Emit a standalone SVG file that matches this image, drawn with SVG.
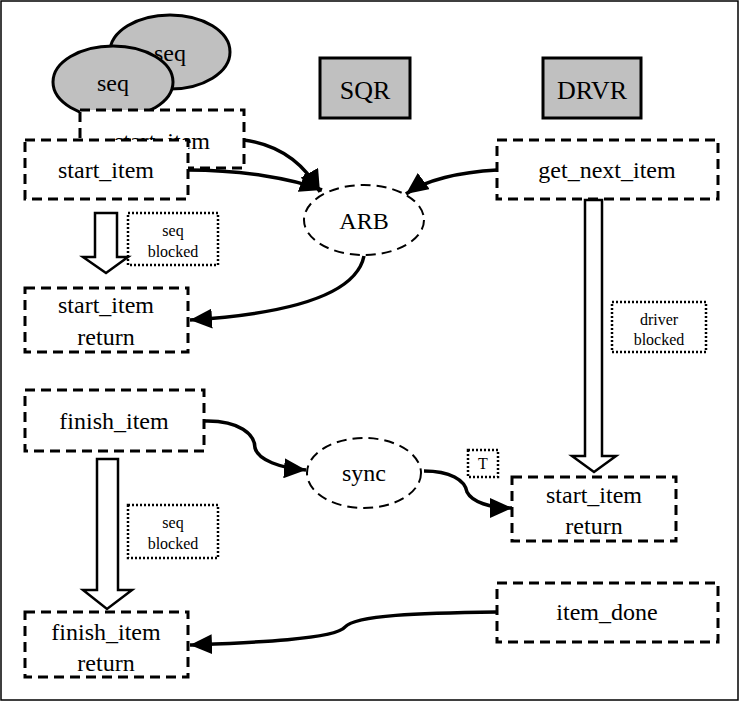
<svg xmlns="http://www.w3.org/2000/svg" width="739" height="701" viewBox="0 0 739 701" font-family="'Liberation Serif', 'DejaVu Serif', serif">
<style>
text{font-family:'Liberation Serif','DejaVu Serif',serif;font-size:24px;text-anchor:middle;fill:#000}
.dash{fill:#fff;stroke:#000;stroke-width:3;stroke-dasharray:10,6}
.dot{fill:#fff;stroke:#000;stroke-width:2.5;stroke-dasharray:2,2}
.gray{fill:#c0c0c0;stroke:#000;stroke-width:3}
.edge{fill:none;stroke:#000;stroke-width:3.5}
.hollow{fill:#fff;stroke:#000;stroke-width:2.5}
.sm{font-size:16px}
</style>
<defs>
<marker id="ah" markerUnits="userSpaceOnUse" markerWidth="24" markerHeight="20" refX="22" refY="10" orient="auto">
<path d="M0,0 L22,10 L0,20 Z" fill="#000"/>
</marker>
</defs>
<rect x="1" y="1" width="737" height="699" fill="#fff" stroke="#000" stroke-width="1.5"/>
<g id="seq2"><ellipse class="gray" cx="170" cy="52" rx="60" ry="37"/><text x="170" y="61">seq</text></g>
<g id="seq1"><ellipse class="gray" cx="113" cy="82" rx="60" ry="36"/><text x="113" y="91">seq</text></g>
<g id="start_item_back"><rect class="dash" x="80" y="110" width="164" height="58"/><text x="162" y="149">start_item</text></g>
<g id="start_item"><rect class="dash" x="25" y="140" width="163" height="59"/><text x="106" y="178">start_item</text></g>
<g id="sqr"><rect class="gray" x="320" y="58" width="90" height="60"/><text x="365" y="99" style="font-size:26px">SQR</text></g>
<g id="drvr"><rect class="gray" x="543" y="58" width="98" height="60"/><text x="592" y="99" style="font-size:26px">DRVR</text></g>
<g id="arb"><ellipse class="dash" cx="364" cy="220" rx="60" ry="35" style="stroke-width:2"/><text x="364" y="229">ARB</text></g>
<g id="get_next_item"><rect class="dash" x="497" y="140" width="221" height="59"/><text x="607" y="178">get_next_item</text></g>
<g id="start_item_return"><rect class="dash" x="25" y="288" width="163" height="64"/><text x="106" y="313">start_item</text><text x="106" y="345">return</text></g>
<g id="finish_item"><rect class="dash" x="25" y="390" width="179" height="61"/><text x="114" y="429">finish_item</text></g>
<g id="finish_item_return"><rect class="dash" x="25" y="612" width="163" height="65"/><text x="106" y="640">finish_item</text><text x="106" y="671">return</text></g>
<g id="sync"><ellipse class="dash" cx="364" cy="473" rx="57" ry="35" style="stroke-width:2"/><text x="364" y="481">sync</text></g>
<g id="start_item_return2"><rect class="dash" x="512" y="477" width="164" height="64"/><text x="594" y="503">start_item</text><text x="594" y="534">return</text></g>
<g id="item_done"><rect class="dash" x="497" y="583" width="221" height="59"/><text x="607" y="620">item_done</text></g>
<g id="seq_blocked1"><rect class="dot" x="128" y="213" width="90" height="52"/><text class="sm" x="173" y="236">seq</text><text class="sm" x="173" y="257">blocked</text></g>
<g id="driver_blocked"><rect class="dot" x="612" y="302" width="94" height="50"/><text class="sm" x="659" y="325">driver</text><text class="sm" x="659" y="345">blocked</text></g>
<g id="seq_blocked2"><rect class="dot" x="128" y="505" width="90" height="53"/><text class="sm" x="173" y="528">seq</text><text class="sm" x="173" y="549">blocked</text></g>
<g id="t_label"><rect class="dot" x="468" y="450" width="30" height="27"/><text class="sm" x="483" y="469">T</text></g>
<g id="connectors">
<path class="hollow" d="M95,213 L117,213 L117,257 L128,257 L106,273 L83,257 L95,257 Z"/>
<path class="hollow" d="M585,200 L602,200 L602,456 L616,456 L594,472 L572,456 L585,456 Z"/>
<path class="hollow" d="M97,459 L118,459 L118,590 L132,590 L107,609 L83,590 L97,590 Z"/>
<path class="edge" marker-end="url(#ah)" d="M244,140 C280,145 305,165 320,192"/>
<path class="edge" marker-end="url(#ah)" d="M188,170 C240,170 290,178 322,190"/>
<path class="edge" marker-end="url(#ah)" d="M497,170 C460,172 425,180 406,194"/>
<path class="edge" marker-end="url(#ah)" d="M364,256 C355,300 270,315 190,320"/>
<path class="edge" marker-end="url(#ah)" d="M204,421 C240,420 255,435 255,448 C258,460 280,468 306,470"/>
<path class="edge" marker-end="url(#ah)" d="M424,471 C450,471 465,480 467,492 C472,502 490,508 512,508"/>
<path class="edge" marker-end="url(#ah)" d="M497,612 C420,613 355,615 345,627 C335,640 240,643 190,645"/>
</g>
</svg>
